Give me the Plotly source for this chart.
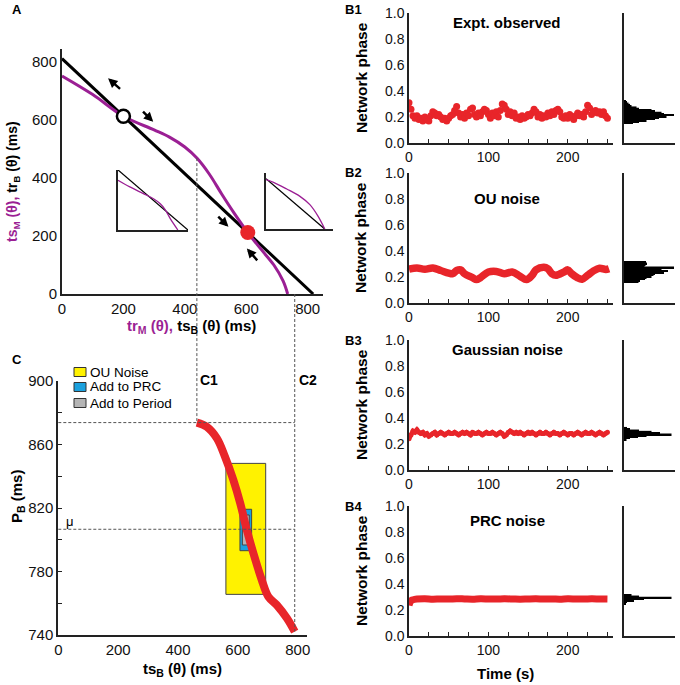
import numpy as np
import plotly.graph_objects as go

W, H = 680, 685
FONT = "Liberation Sans, Arial, sans-serif"
PURPLE = "#9b1f94"
RED = "#e8252a"
AXIS = "#222222"
GUIDE = "#555555"

# ---------------- panel A (ms) ----------------
trb_x = [0, 818]
trb_y = [812, 0]
tsm_x = [0, 100, 200, 300, 350, 400, 440, 480, 520, 560, 605, 650, 690, 720, 735]
tsm_y = [752, 688, 613, 566, 541, 507, 468, 413, 345, 280, 212, 152, 100, 45, 0]
unstable_x, unstable_y = [200], [613]
stable_x, stable_y = [605], [212]
arrow_head_x = [150, 297, 542, 602]
arrow_head_y = [744, 594, 232, 157]
arrow_tail_x = [194, 259, 504, 640]
arrow_tail_y = [703, 634, 272, 111]

# insets (normalised units)
inset_l_black_x = [0, 1]
inset_l_black_y = [1, 0]
inset_l_x = [0, 0.169, 0.362, 0.507, 0.604, 0.676, 0.749, 0.855]
inset_l_y = [0.83, 0.719, 0.607, 0.522, 0.438, 0.337, 0.185, 0]
inset_r_black_x = [0, 0.877]
inset_r_black_y = [0.899, 0]
inset_r_x = [0, 0.113, 0.31, 0.507, 0.655, 0.778, 0.877]
inset_r_y = [0.881, 0.833, 0.714, 0.583, 0.435, 0.226, 0]

# ---------------- panel C ----------------
c_ts = [463, 496, 530, 557, 585, 608, 630, 652, 680, 702, 730, 764, 790]
c_pb = [873.8, 871.2, 863.9, 852.3, 837.6, 822.9, 806.1, 791.4, 774.6, 764.1, 758.9, 750.5, 742.1]
mu_pb = 806.6
ou_ts, ou_pb = [560, 693], [765.6, 848.1]
prc_ts, prc_pb = [607, 646], [793.1, 819.2]
per_ts, per_pb = [615, 638], [796.7, 815.6]

# ---------------- panels B ----------------
sample_t = np.arange(0, 252.5, 2.5)
b1_phase = [
    0.31, 0.26, 0.21, 0.19, 0.21, 0.18, 0.19, 0.17, 0.20, 0.18,
    0.17, 0.21, 0.24, 0.23, 0.21, 0.22, 0.20, 0.18, 0.19, 0.17,
    0.19, 0.21, 0.22, 0.25, 0.28, 0.23, 0.20, 0.22, 0.19, 0.23,
    0.21, 0.26, 0.27, 0.22, 0.20, 0.23, 0.21, 0.24, 0.26, 0.25,
    0.22, 0.19, 0.23, 0.21, 0.24, 0.20, 0.25, 0.30, 0.29, 0.26,
    0.22, 0.24, 0.21, 0.23, 0.19, 0.20, 0.18, 0.21, 0.19, 0.20,
    0.22, 0.21, 0.23, 0.26, 0.24, 0.20, 0.22, 0.19, 0.21, 0.20,
    0.23, 0.21, 0.24, 0.22, 0.25, 0.26, 0.24, 0.20, 0.19, 0.21,
    0.19, 0.22, 0.20, 0.18, 0.21, 0.23, 0.21, 0.22, 0.20, 0.24,
    0.29, 0.27, 0.22, 0.24, 0.25, 0.23, 0.24, 0.22, 0.24, 0.21,
    0.19,
]
b2_t = [0, 10, 20, 30, 40, 50, 55, 60, 65, 70, 80, 85, 90, 100, 110, 120, 130, 140, 148,
        155, 160, 170, 175, 180, 185, 195, 200, 205, 212, 218, 225, 232, 240, 248, 252]
b2_phase = [0.26, 0.27, 0.26, 0.27, 0.25, 0.23, 0.225, 0.25, 0.255, 0.225, 0.195, 0.18, 0.195,
            0.238, 0.243, 0.225, 0.238, 0.205, 0.18, 0.213, 0.255, 0.275, 0.263, 0.225, 0.213,
            0.238, 0.255, 0.225, 0.195, 0.183, 0.213, 0.245, 0.268, 0.258, 0.263]
b3_phase = [
    0.24, 0.27, 0.30, 0.29, 0.31, 0.29, 0.28, 0.29, 0.27, 0.28,
    0.26, 0.27, 0.28, 0.29, 0.27, 0.28, 0.29, 0.28, 0.27, 0.28,
    0.29, 0.28, 0.28, 0.29, 0.28, 0.27, 0.28, 0.29, 0.28, 0.29,
    0.28, 0.27, 0.29, 0.28, 0.28, 0.29, 0.28, 0.27, 0.28, 0.29,
    0.28, 0.28, 0.29, 0.28, 0.27, 0.28, 0.29, 0.28, 0.26, 0.27,
    0.29, 0.30, 0.29, 0.28, 0.29, 0.28, 0.29, 0.28, 0.27, 0.28,
    0.29, 0.28, 0.29, 0.28, 0.27, 0.28, 0.29, 0.28, 0.28, 0.29,
    0.28, 0.27, 0.28, 0.29, 0.28, 0.28, 0.27, 0.28, 0.29, 0.28,
    0.27, 0.28, 0.28, 0.27, 0.28, 0.29, 0.28, 0.27, 0.28, 0.29,
    0.28, 0.28, 0.29, 0.28, 0.27, 0.28, 0.29, 0.28, 0.27, 0.28,
    0.29,
]
b4_t = [0, 1, 2, 4, 7, 10, 20, 30, 40, 50, 60, 70, 80, 90, 100, 110, 120, 130, 140, 150,
        160, 170, 180, 190, 200, 210, 220, 230, 240, 250]
b4_phase = [0.235, 0.255, 0.268, 0.277, 0.282, 0.284, 0.286, 0.283, 0.285, 0.284, 0.287, 0.285,
            0.283, 0.286, 0.285, 0.284, 0.286, 0.285, 0.283, 0.285, 0.286, 0.284, 0.285, 0.283,
            0.286, 0.285, 0.284, 0.286, 0.285, 0.284]

# histograms of phase (bin centre, relative count)
b1_bins = [0.155, 0.165, 0.175, 0.185, 0.195, 0.205, 0.215, 0.225, 0.235, 0.245, 0.255,
           0.265, 0.275, 0.285, 0.295, 0.305, 0.315, 0.325]
b1_counts = [18, 30, 45, 62, 70, 85, 100, 80, 75, 62, 55, 30, 25, 15, 12, 9, 6, 4]
b2_bins = [0.165, 0.175, 0.185, 0.195, 0.205, 0.215, 0.225, 0.235, 0.245, 0.255, 0.265,
           0.275, 0.285, 0.295, 0.305, 0.315]
b2_counts = [29, 32, 42, 45, 55, 59, 62, 80, 88, 75, 69, 100, 41, 43, 46, 44]
b3_bins = [0.235, 0.245, 0.255, 0.265, 0.275, 0.285, 0.295, 0.305, 0.315, 0.325]
b3_counts = [5, 12, 28, 45, 95, 72, 55, 30, 12, 6]
b4_bins = [0.245, 0.255, 0.265, 0.275, 0.285, 0.295, 0.305, 0.315]
b4_counts = [3, 4, 6, 20, 40, 95, 30, 15]

b_titles = ["Expt. observed", "OU noise", "Gaussian noise", "PRC noise"]
b_labels = ["B1", "B2", "B3", "B4"]


def xdom(left, right):
    return [left / W, right / W]


def ydom(top, bottom):
    return [1 - bottom / H, 1 - top / H]


def paper(x, y):
    return x / W, 1 - y / H


# pixel frames of panel A and C axes
A_L, A_R, A_T, A_B = 62, 323, 49, 294
A_RX, A_RY = 850, 845
C_L, C_R, C_T, C_B = 58.3, 306.7, 381, 635
C_RX, C_RY = (0, 830), (740, 900)


def a_px(x, y):
    return A_L + x / A_RX * (A_R - A_L), A_B - y / A_RY * (A_B - A_T)


def c_px(x, y):
    return (C_L + (x - C_RX[0]) / (C_RX[1] - C_RX[0]) * (C_R - C_L),
            C_B - (y - C_RY[0]) / (C_RY[1] - C_RY[0]) * (C_B - C_T))


fig = go.Figure()

# ---- A ----
fig.add_trace(go.Scatter(x=trb_x, y=trb_y, mode="lines", line=dict(color="black", width=3),
                         xaxis="x", yaxis="y"))
fig.add_trace(go.Scatter(x=tsm_x, y=tsm_y, mode="lines", line=dict(color=PURPLE, width=3, shape="spline"),
                         xaxis="x", yaxis="y"))
fig.add_trace(go.Scatter(x=unstable_x, y=unstable_y, mode="markers",
                         marker=dict(size=13, color="white", line=dict(color="black", width=2.5)),
                         xaxis="x", yaxis="y"))
fig.add_trace(go.Scatter(x=stable_x, y=stable_y, mode="markers",
                         marker=dict(size=15, color=RED), xaxis="x", yaxis="y"))

fig.add_trace(go.Scatter(x=inset_l_black_x, y=inset_l_black_y, mode="lines",
                         line=dict(color="black", width=1.3), xaxis="x2", yaxis="y2"))
fig.add_trace(go.Scatter(x=inset_l_x, y=inset_l_y, mode="lines",
                         line=dict(color=PURPLE, width=1.3, shape="spline"), xaxis="x2", yaxis="y2"))
fig.add_trace(go.Scatter(x=inset_r_black_x, y=inset_r_black_y, mode="lines",
                         line=dict(color="black", width=1.3), xaxis="x3", yaxis="y3"))
fig.add_trace(go.Scatter(x=inset_r_x, y=inset_r_y, mode="lines",
                         line=dict(color=PURPLE, width=1.3, shape="spline"), xaxis="x3", yaxis="y3"))

# ---- C ----
for xs, ys, col in [(ou_ts, ou_pb, "#fff200"), (prc_ts, prc_pb, "#1ba1de"), (per_ts, per_pb, "#b5b5b5")]:
    fig.add_trace(go.Scatter(x=[xs[0], xs[1], xs[1], xs[0], xs[0]], y=[ys[0], ys[0], ys[1], ys[1], ys[0]],
                             mode="lines", fill="toself", fillcolor=col,
                             line=dict(color="#444444", width=1), xaxis="x4", yaxis="y4"))
fig.add_trace(go.Scatter(x=c_ts, y=c_pb, mode="lines", line=dict(color=RED, width=8, shape="spline"),
                         xaxis="x4", yaxis="y4"))

# ---- B ----
fig.add_trace(go.Scatter(x=sample_t, y=b1_phase, mode="markers", marker=dict(size=7, color=RED),
                         xaxis="x5", yaxis="y5"))
fig.add_trace(go.Scatter(x=b2_t, y=b2_phase, mode="lines", line=dict(color=RED, width=7.5, shape="spline"),
                         xaxis="x6", yaxis="y6"))
fig.add_trace(go.Scatter(x=sample_t, y=b3_phase, mode="lines+markers", line=dict(color=RED, width=4.5),
                         marker=dict(size=5, color=RED), xaxis="x7", yaxis="y7"))
fig.add_trace(go.Scatter(x=b4_t, y=b4_phase, mode="lines", line=dict(color=RED, width=7, shape="spline"),
                         xaxis="x8", yaxis="y8"))

for i, (bins, counts) in enumerate([(b1_bins, b1_counts), (b2_bins, b2_counts),
                                     (b3_bins, b3_counts), (b4_bins, b4_counts)]):
    fig.add_trace(go.Bar(x=counts, y=bins, orientation="h", width=0.0125,
                         marker=dict(color="black", line=dict(width=0)),
                         xaxis=f"x{9 + i}", yaxis=f"y{9 + i}"))

# ---- axes ----
tick_font = dict(family=FONT, size=15, color="#111111")
b_tick_font = dict(family=FONT, size=14, color="#111111")
base = dict(showgrid=False, zeroline=False, showline=True, linecolor=AXIS, ticks="",
            tickfont=tick_font, automargin=False)
axes = {}
axes["xaxis"] = dict(base, domain=xdom(A_L, A_R), range=[0, A_RX], tickvals=[0, 200, 400, 600, 800],
                     anchor="y", linewidth=2)
axes["yaxis"] = dict(base, domain=ydom(A_T, A_B), range=[0, A_RY], tickvals=[0, 200, 400, 600, 800],
                     anchor="x", linewidth=2)
for n, (l, r, t, b) in [(2, (118, 188, 170, 230)), (3, (266, 333, 173, 229))]:
    axes[f"xaxis{n}"] = dict(base, domain=xdom(l, r), range=[0, 1], showticklabels=False,
                             anchor=f"y{n}", linewidth=1.5)
    axes[f"yaxis{n}"] = dict(base, domain=ydom(t, b), range=[0, 1], showticklabels=False,
                             anchor=f"x{n}", linewidth=1.5)
axes["xaxis4"] = dict(base, domain=xdom(C_L, C_R), range=list(C_RX), tickvals=[0, 200, 400, 600, 800],
                      anchor="y4", linewidth=2)
c_ticks = list(range(740, 901, 20))
axes["yaxis4"] = dict(base, domain=ydom(C_T, C_B), range=list(C_RY), tickvals=c_ticks,
                      ticktext=[str(v) if (v - 740) % 40 == 0 else "" for v in c_ticks],
                      ticks="inside", ticklen=4, tickcolor=AXIS, anchor="x4", linewidth=2)

b_rows = [(13, 143), (173, 303), (340, 470), (506, 636)]
b_xticks = list(range(0, 251, 25))
for i, (t, b) in enumerate(b_rows):
    axes[f"xaxis{5 + i}"] = dict(base, domain=xdom(409, 613), range=[0, 257], tickvals=b_xticks,
                                 ticktext=[str(v) if v % 100 == 0 else "" for v in b_xticks],
                                 ticks="inside", ticklen=4, tickcolor=AXIS, anchor=f"y{5 + i}",
                                 linewidth=1.5, tickfont=b_tick_font)
    axes[f"yaxis{5 + i}"] = dict(base, domain=ydom(t, b), range=[0, 1.0],
                                 tickvals=[0, 0.2, 0.4, 0.6, 0.8, 1.0],
                                 ticktext=["0.0", "0.2", "0.4", "0.6", "0.8", "1.0"],
                                 anchor=f"x{5 + i}", linewidth=1.5, tickfont=b_tick_font)
    axes[f"xaxis{9 + i}"] = dict(base, domain=xdom(624, 675), range=[0, 102], showticklabels=False,
                                 anchor=f"y{9 + i}", linewidth=1.5)
    axes[f"yaxis{9 + i}"] = dict(base, domain=ydom(t, b), range=[0, 1.0], showticklabels=False,
                                 anchor=f"x{9 + i}", linewidth=1.5)

# ---- annotations ----
annotations = []


def ann(text, x, y, size=14, angle=0, color="black", bold=True):
    px_, py_ = paper(x, y)
    annotations.append(dict(text=f"<b>{text}</b>" if bold else text, x=px_, y=py_, xref="paper",
                            yref="paper", showarrow=False, textangle=angle, xanchor="center",
                            yanchor="middle", font=dict(family=FONT, size=size, color=color)))


ann("A", 17, 10, 13)
ann("C", 17, 359, 13)
for lab, ypos in zip(b_labels, [10, 173, 340, 506]):
    ann(lab, 353, ypos, 13)
ann(f"<span style='color:{PURPLE}'>ts<sub>M</sub> (θ),</span> tr<sub>B</sub> (θ) (ms)", 13, 182, 14, -90)
ann(f"<span style='color:{PURPLE}'>tr<sub>M</sub> (θ),</span> ts<sub>B</sub> (θ) (ms)", 191, 326, 15)
ann("P<sub>B</sub> (ms)", 17, 497, 15, -90)
ann("ts<sub>B</sub> (θ) (ms)", 182, 669, 15)
ann("C1", 209, 380, 14)
ann("C2", 308, 380, 14)
ann("μ", 70, 521, 13, bold=False)
ann("Time (s)", 505, 673, 15)
for (t, b), title, ty in zip(b_rows, b_titles, [23, 198, 349, 520]):
    ann("Network phase", 361, (t + b) / 2, 15.5, -90)
    ann(title, 507, ty, 15)

# legend for C
legend_items = [("OU Noise", "#fff200", 372), ("Add to PRC", "#1ba1de", 387), ("Add to Period", "#b5b5b5", 403)]
shapes = []
for label, col, yc in legend_items:
    x0, y0 = paper(74, yc - 4.5)
    x1, y1 = paper(86, yc + 4.5)
    shapes.append(dict(type="rect", xref="paper", yref="paper", x0=x0, x1=x1, y0=y1, y1=y0,
                       fillcolor=col, line=dict(color="#333333", width=1)))
    px_, py_ = paper(88, yc)
    annotations.append(dict(text=label, x=px_, y=py_, xref="paper", yref="paper", showarrow=False,
                            xanchor="left", yanchor="middle", font=dict(family=FONT, size=13.5, color="black")))

# arrows in A
for hx, hy, tx, ty in zip(arrow_head_x, arrow_head_y, arrow_tail_x, arrow_tail_y):
    annotations.append(dict(x=hx, y=hy, ax=tx, ay=ty, xref="x", yref="y", axref="x", ayref="y",
                            showarrow=True, arrowhead=2, arrowsize=0.75, arrowwidth=2.5,
                            arrowcolor="black", text="", startstandoff=0, standoff=0))

# dashed guides linking A and C
c1x, c1y = c_px(c_ts[0], c_pb[0])
c2x, c2y = c_px(c_ts[-1], c_pb[-1])
a_x_at_c1 = (c1x - A_L) / (A_R - A_L) * A_RX
_, c1_top = a_px(a_x_at_c1, np.interp(a_x_at_c1, tsm_x, tsm_y))
_, a_axis = a_px(0, 0)
_, mu_y = c_px(0, mu_pb)
guide = dict(color=GUIDE, width=1, dash="3px,2px")
for (xa, ya, xb, yb) in [(c1x, c1_top, c1x, c1y), (c2x, a_axis, c2x, c2y),
                         (C_L, c1y, c2x, c1y), (C_L, mu_y, c2x, mu_y)]:
    x0, y0 = paper(xa, ya)
    x1, y1 = paper(xb, yb)
    shapes.append(dict(type="line", xref="paper", yref="paper", x0=x0, y0=y0, x1=x1, y1=y1, line=guide))

fig.update_layout(
    width=W, height=H, margin=dict(l=0, r=0, t=0, b=0),
    paper_bgcolor="white", plot_bgcolor="rgba(0,0,0,0)",
    showlegend=False, annotations=annotations, shapes=shapes,
    font=dict(family=FONT, color="black"),
    **axes,
)

# the page's default body margin would shift the figure by 8px
fig.write_html("out.html", config={"displayModeBar": False},
               post_script="document.body.style.margin = '0px';")
